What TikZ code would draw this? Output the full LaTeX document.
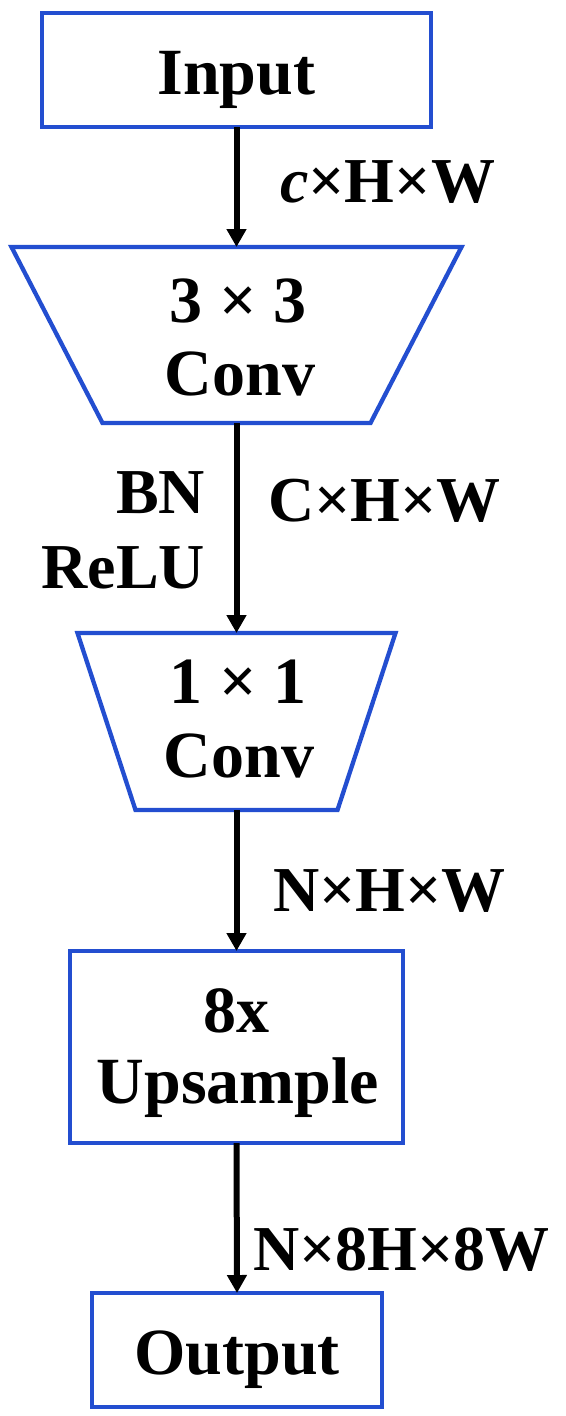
\documentclass[tikz,border=0pt]{standalone}
\usepackage{fontspec}
\setmainfont{Liberation Serif}[BoldFont={Liberation Serif Bold},BoldItalicFont={Liberation Serif Bold Italic}]
\usetikzlibrary{arrows.meta}
\definecolor{boxblue}{RGB}{35,78,208}
\begin{document}
\begin{tikzpicture}[x=1pt,y=-1pt,
  boxline/.style={draw=boxblue, line width=4.3pt, line join=miter},
  rectbox/.style={boxline, rectangle, inner sep=0pt, outer sep=0pt},
  boxtxt/.style={inner sep=0pt, outer sep=0pt, font=\bfseries\fontsize{66}{79}\selectfont},
  lbl/.style={inner sep=0pt, outer sep=0pt, font=\bfseries\fontsize{64}{77}\selectfont},
  flow/.style={line width=6pt, -{Triangle[width=19pt,length=18pt]}}
]
\useasboundingbox (0,0) rectangle (565,1416);

% boxes
\node[rectbox, boxtxt, minimum width=389pt, minimum height=114pt, text height=49pt, text depth=0pt] (in) at (236.5,70) {Input};
\node[rectbox, minimum width=333pt, minimum height=192pt] (up) at (236.5,1047) {};
\node[rectbox, boxtxt, minimum width=290pt, minimum height=114pt, text height=49pt, text depth=0pt] (out) at (237,1350) {Output};

% trapezoids
\coordinate (c1t) at (236.5,247);
\coordinate (c1b) at (236.5,423);
\draw[boxline] (11.5,247) -- (461.5,247) -- (370.5,423) -- (102.5,423) -- cycle;
\coordinate (c2t) at (236.5,633);
\coordinate (c2b) at (236.5,810);
\draw[boxline] (77.5,633) -- (395.5,633) -- (337.5,810) -- (135.5,810) -- cycle;

% box texts
\node[boxtxt, anchor=base] (t33) at (238,322) {3 × 3};
\node[boxtxt, anchor=base] (tconva) at (240,395) {Conv};
\node[boxtxt, anchor=base] (t11) at (238,703) {1 × 1};
\node[boxtxt, anchor=base] (tconvb) at (239,777) {Conv};
\node[boxtxt, anchor=base] (t8x) at (236.5,1032) {8x};
\node[boxtxt, anchor=base] (tup) at (238,1103) {Upsample};

% connectors
\draw[flow] (in.south) -- (c1t);
\draw[flow] (c1b) -- (c2t);
\draw[flow] (c2b) -- (up.north);
\draw[flow] (up.south) -- (out.north);

% labels
\node[lbl, anchor=base west] (l1) at (280,202) {\textit{c}×H×W};
\node[lbl, anchor=base east] (lbn) at (205,513) {BN};
\node[lbl, anchor=base east] (lrelu) at (205,588) {ReLU};
\node[lbl, anchor=base west] (l2) at (268,521) {C×H×W};
\node[lbl, anchor=base west] (l3) at (273,911) {N×H×W};
\node[lbl, anchor=base west] (l4) at (253,1270) {N×8H×8W};
\end{tikzpicture}
\end{document}
